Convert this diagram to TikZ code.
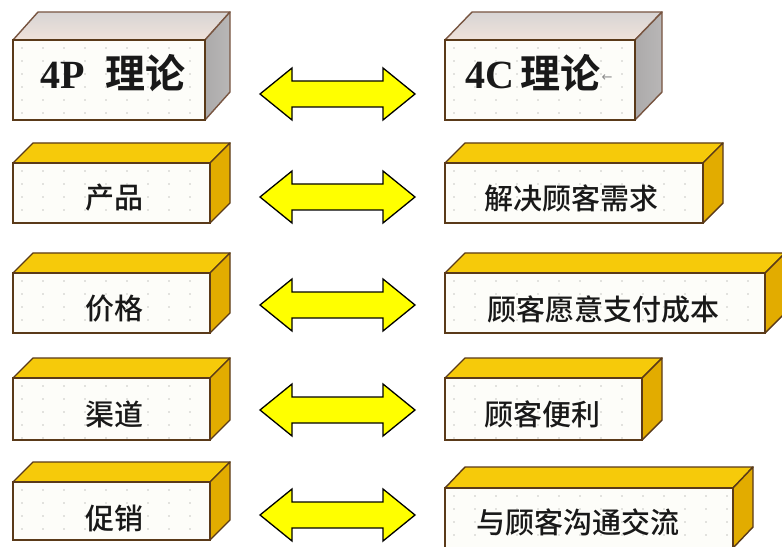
\documentclass[tikz,border=0pt]{standalone}
\usepackage{fontspec}
\newfontfamily\cjk{Noto Sans CJK SC Medium}
\newfontfamily\cjkb{Noto Sans CJK SC Bold}
\newfontfamily\lser{Liberation Serif}
\newfontfamily\djv{DejaVu Sans}
\usetikzlibrary{calc}
\definecolor{edgebrown}{RGB}{90,58,25}
\definecolor{edgegray}{RGB}{120,85,65}
\definecolor{goldtop}{RGB}{246,202,10}
\definecolor{goldside}{RGB}{226,172,0}
\definecolor{graytop}{RGB}{240,226,218}
\definecolor{graytopback}{RGB}{215,212,212}
\definecolor{grayside}{RGB}{172,170,170}
\definecolor{facewhite}{RGB}{253,253,249}
\definecolor{dotgray}{RGB}{200,200,195}
\definecolor{arrowyellow}{RGB}{255,255,0}
\tikzset{
  front/.style={fill=facewhite, inner sep=0pt, outer sep=0pt},
  topgold/.style={fill=goldtop, draw=edgebrown, line width=1.4bp, line join=round},
  sidegold/.style={fill=goldside, draw=edgebrown, line width=1.4bp, line join=round},
  topgray/.style={top color=graytopback, bottom color=graytop, draw=edgegray, line width=1.4bp, line join=round},
  sidegray/.style={left color=grayside, right color=grayside!85, draw=edgegray, line width=1.4bp, line join=round},
  frameline/.style={draw=edgebrown, line width=1.6bp},
  dotc/.style={fill=dotgray},
  dblarrow/.style={fill=arrowyellow, draw=black, line width=1.3bp, line join=miter},
  lbl/.style={inner sep=0pt, font=\cjk\fontsize{29bp}{32bp}\selectfont, text=black!90},
  hdr/.style={inner sep=0pt, text=black!90}
}
\newcommand\cube[8]{%
  \node[front, minimum width=#4bp, minimum height=#5bp] (#1) at (#2,#3) {};
  \begin{scope}
    \clip (#1.south west) rectangle (#1.north east);
    \foreach \i in {0,...,38}{\foreach \j in {0,...,6}{%
      \fill[dotc] ($(#1.north west)+(9+\i*21,8+\j*13)$) circle (0.85bp);}}
  \end{scope}
  \path[top#8] (#1.north west) -- ($(#1.north west)+(#6,-#7)$) -- ($(#1.north east)+(#6,-#7)$) -- (#1.north east) -- cycle;
  \path[side#8] (#1.north east) -- ($(#1.north east)+(#6,-#7)$) -- ($(#1.south east)+(#6,-#7)$) -- (#1.south east) -- cycle;
  \draw[frameline] (#1.south west) rectangle (#1.north east);
}
\newcommand\twoway[2]{%
  \coordinate (#1) at (337.5,#2);
  \path[dblarrow] ($(#1)+(-77.5,0)$) -- ($(#1)+(-45.5,-26)$) -- ($(#1)+(-45.5,-13)$)
    -- ($(#1)+(45.5,-13)$) -- ($(#1)+(45.5,-26)$) -- ($(#1)+(77.5,0)$)
    -- ($(#1)+(45.5,26)$) -- ($(#1)+(45.5,13)$) -- ($(#1)+(-45.5,13)$)
    -- ($(#1)+(-45.5,26)$) -- cycle;
}
\begin{document}
\begin{tikzpicture}[x=1bp,y=-1bp]
\useasboundingbox (0,0) rectangle (782,547);
\fill[white] (0,0) rectangle (782,547);
\clip (0,0) rectangle (782,547);

% header boxes
\cube{h1}{109}{80}{192}{80}{25}{28}{gray}
\cube{h2}{540}{80}{190}{80}{27}{28}{gray}
% row boxes
\cube{l2}{111.5}{193}{197}{60}{20}{20}{gold}
\cube{r2}{574}{193}{258}{60}{20}{20}{gold}
\cube{l3}{111.5}{303}{197}{60}{20}{20}{gold}
\cube{r3}{605}{303}{320}{60}{20}{20}{gold}
\cube{l4}{111.5}{409}{197}{62}{20}{20}{gold}
\cube{r4}{543.5}{409}{197}{62}{20}{20}{gold}
\cube{l5}{111.5}{511}{197}{58}{20}{20}{gold}
\cube{r5}{589}{518}{288}{60}{20}{21}{gold}

% labels
\node[hdr] (t1) at (113,73) {{\lser\bfseries\fontsize{40bp}{44bp}\selectfont 4P}\hspace{20bp}{\cjkb\fontsize{40bp}{44bp}\selectfont 理论}};
\node[hdr] (t2) at (533,73) {{\lser\bfseries\fontsize{40bp}{44bp}\selectfont 4C}\hspace{6bp}{\cjkb\fontsize{40bp}{44bp}\selectfont 理论}};
\node[inner sep=0pt, text=black!45, font=\djv\fontsize{13bp}{14bp}\selectfont] (t2m) at (607,78) {←};

\node[lbl] (a2) at (114,198) {产品};
\node[lbl] (b2) at (571,198) {解决顾客需求};
\node[lbl] (a3) at (114,309) {价格};
\node[lbl] (b3) at (603,309) {顾客愿意支付成本};
\node[lbl] (a4) at (114,414) {渠道};
\node[lbl] (b4) at (542,414) {顾客便利};
\node[lbl] (a5) at (114,518) {促销};
\node[lbl] (b5) at (578,522) {与顾客沟通交流};

% double arrows
\twoway{d1}{94}
\twoway{d2}{197}
\twoway{d3}{305}
\twoway{d4}{410}
\twoway{d5}{515}
\end{tikzpicture}
\end{document}
